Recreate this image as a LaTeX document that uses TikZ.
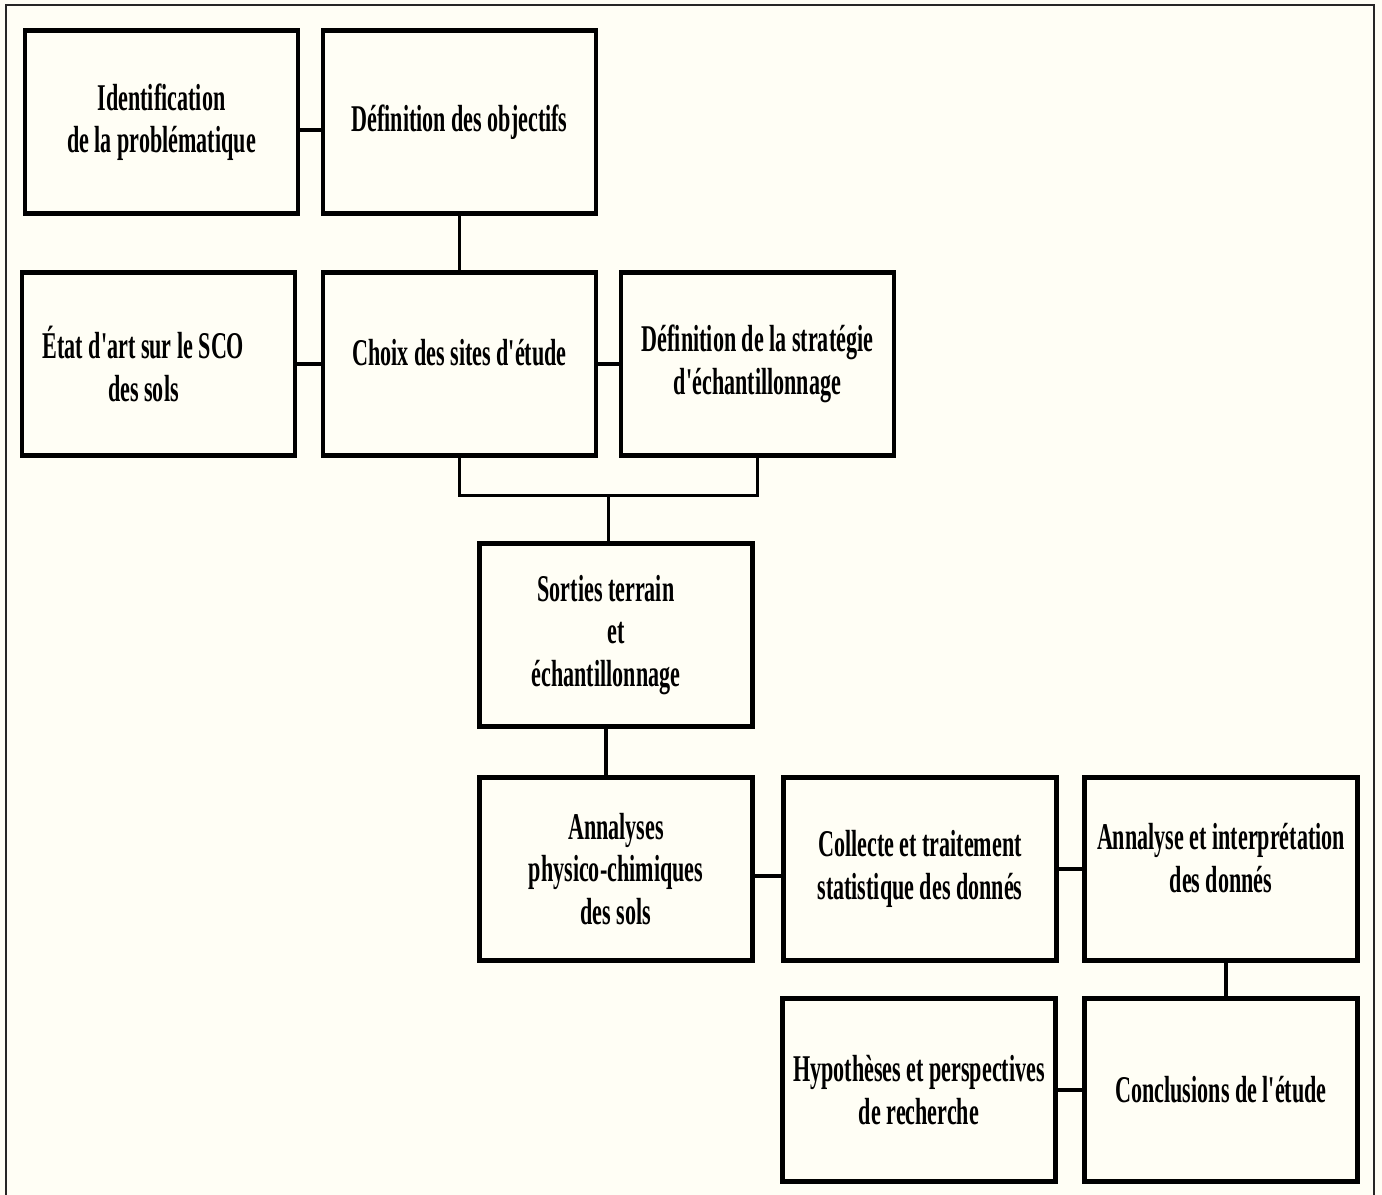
\documentclass[tikz,border=0pt]{standalone}
\usepackage{fontspec}
\newfontfamily\boxfont{Liberation Serif}[FakeStretch=0.585, Ligatures=TeXOff]
\usepackage{xcolor}
\usepackage{tikz}
\usetikzlibrary{positioning,calc}

\definecolor{papercream}{RGB}{255,254,245}

\begin{document}
\begin{tikzpicture}[
    node distance=1.18cm and 0.5cm,
    stepbox/.style={rectangle, draw=black, line width=2.6pt, fill=papercream, align=center, minimum height=3.66cm, minimum width=5.46cm, inner sep=2pt, outer sep=0pt, font=\boxfont\bfseries\fontsize{21.5}{24.2}\selectfont},
    link/.style={draw=black, line width=2.1pt}
]
    % page and frame
    \fill [papercream] (0,0) rectangle (27.64,-23.9);
    \useasboundingbox (0,0) rectangle (27.64,-23.9);
    \draw [line width=1.1pt, black!85] (0.12,-23.9) -- (0.12,-0.1) -- (27.48,-0.1) -- (27.48,-23.9);

    % first rows
    \node [stepbox] (ident) at (3.23,-2.44) {Identification\\de la problématique};
    \node [stepbox, right=of ident] (objectifs) {Définition des objectifs};
    \node [stepbox, below=of objectifs] (choix) {Choix des sites d'étude\rule[-0.45cm]{0pt}{0pt}};
    \node [stepbox, left=0.56cm of choix] (etat) {État d'art sur le SCO\hspace*{0.6cm}\\des sols\hspace*{0.6cm}};
    \node [stepbox, right=of choix] (strategie) {Définition de la stratégie\\d'échantillonnage};

    \coordinate (join) at ($($(choix.south)!0.5!(strategie.south)$)+(0,-0.8)$);
    \node [stepbox, below=0.96cm of join, xshift=0.15cm] (sorties) {Sorties terrain\hspace*{0.4cm}\\et\hspace*{0.4cm}\\échantillonnage\hspace*{0.4cm}};

    % lower rows
    \node [stepbox, below=1.02cm of sorties] (analyses) {Annalyses\\physico-chimiques\\des sols};
    \node [stepbox, right=0.62cm of analyses] (collecte) {Collecte et traitement\\statistique des donnés};
    \node [stepbox, right=0.56cm of collecte] (interp) {Annalyse et interprétation\\des donnés\rule[-0.45cm]{0pt}{0pt}};
    \node [stepbox, below=0.76cm of interp] (conclusions) {Conclusions de l'étude};
    \node [stepbox, left=0.58cm of conclusions] (hypotheses) {Hypothèses et perspectives\\de recherche};

    \draw [link] ([yshift=-0.16cm]ident.east) -- ([yshift=-0.16cm]objectifs.west);
    \draw [link] (objectifs.south) -- (choix.north);
    \draw [link] (etat.east) -- (choix.west);
    \draw [link] (choix.east) -- (strategie.west |- choix.east);
    \draw [link] (choix.south) |- (join) -| (strategie.south);
    \draw [link] (join) -- (join |- sorties.north);
    \draw [link] ([xshift=-0.2cm]sorties.south) -- ([xshift=-0.2cm]sorties.south |- analyses.north);
    \draw [link] ([yshift=-0.14cm]analyses.east) -- ([yshift=-0.14cm]analyses.east -| collecte.west);
    \draw [link] (collecte.east) -- (collecte.east -| interp.west);
    \draw [link] ([xshift=0.1cm]interp.south) -- ([xshift=0.1cm]interp.south |- conclusions.north);
    \draw [link] (hypotheses.east) -- (conclusions.west);
\end{tikzpicture}
\end{document}
